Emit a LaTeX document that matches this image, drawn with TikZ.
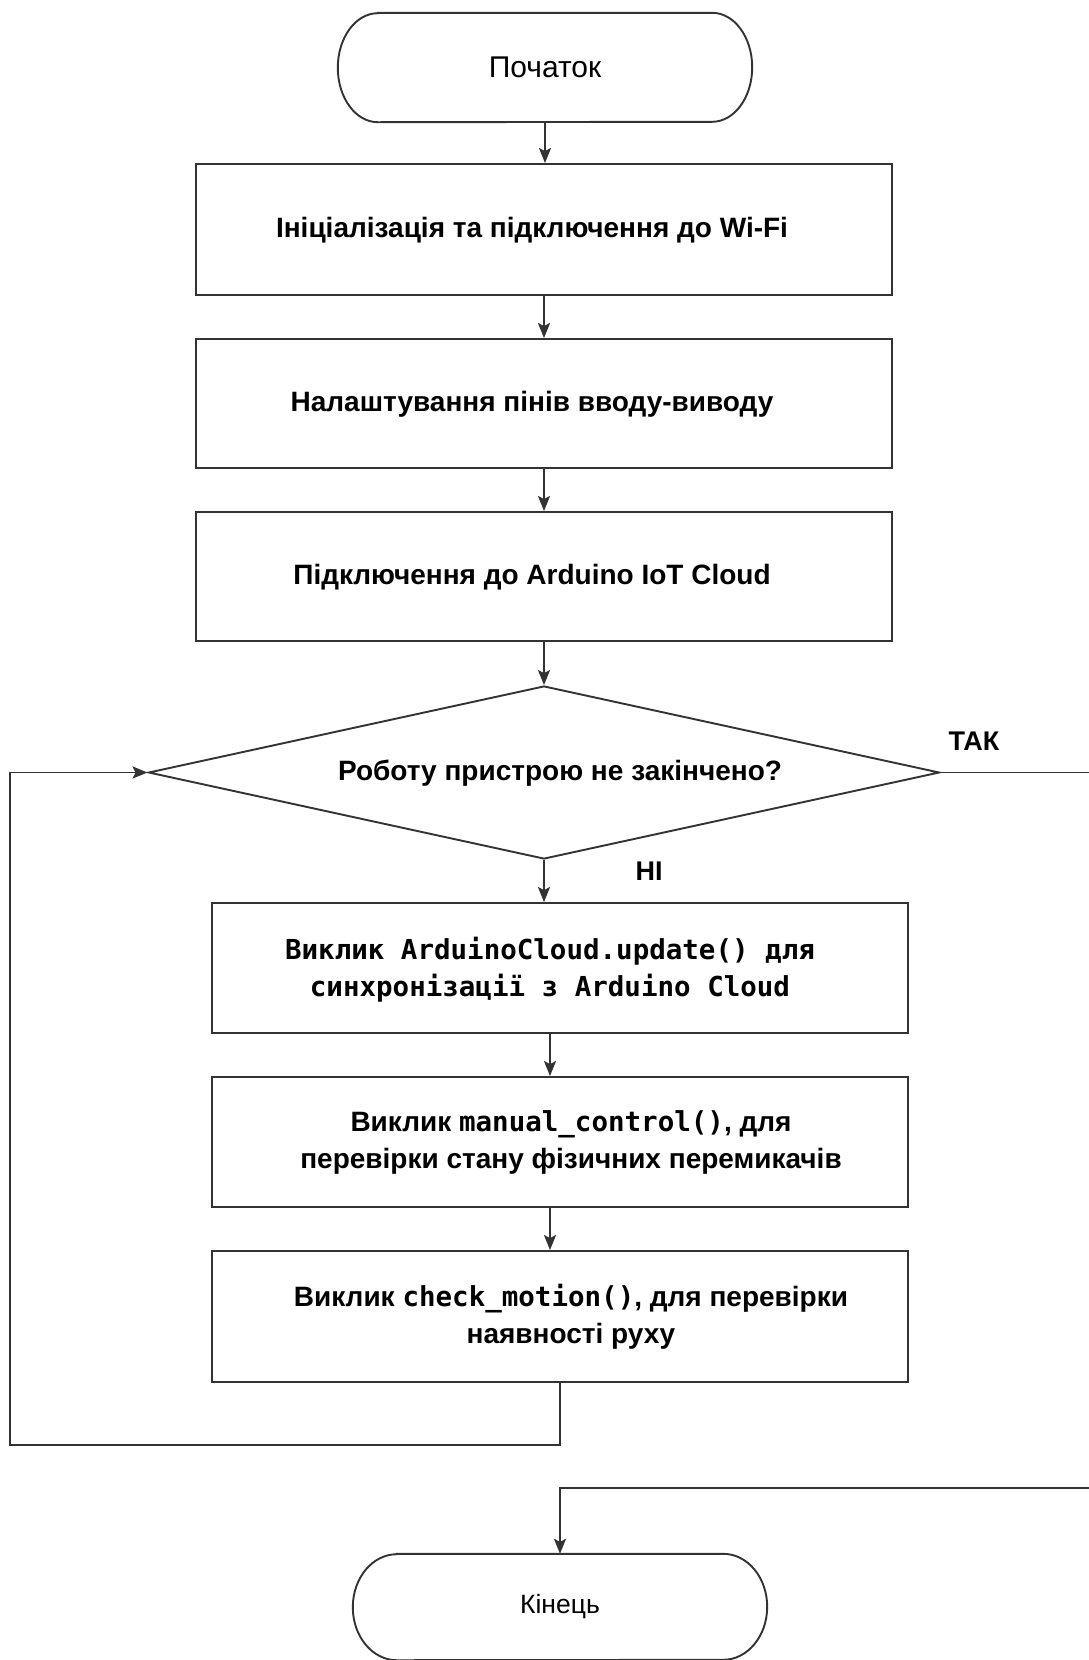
\documentclass[tikz,border=0pt]{standalone}
\usepackage{fontspec}
\setmainfont{Liberation Sans}
\newfontfamily\monofont{DejaVu Sans Mono}
\usetikzlibrary{shapes.geometric,arrows.meta}
\tikzset{
  ln/.style={draw=black!80, line width=1.9pt},
  arr/.style={ln, -{Stealth[length=15pt,width=12pt,inset=3pt]}},
  box/.style={ln, rectangle, minimum width=696pt, inner sep=0pt, fill=white},
  term/.style={rectangle, inner sep=0pt, minimum width=414pt},
  txt/.style={font=\bfseries\fontsize{28}{37}\selectfont, align=center},
  mtxt/.style={font=\monofont\bfseries\fontsize{27.5}{37}\selectfont, align=center},
  ttxt/.style={font=\fontsize{30}{36}\selectfont},
  etxt/.style={font=\fontsize{26.5}{32}\selectfont},
  lbl/.style={font=\bfseries\fontsize{27}{32}\selectfont},
}
\newcommand{\codef}[1]{{\monofont\bfseries\fontsize{27.5}{37}\selectfont #1}}
\begin{document}
\begin{tikzpicture}[x=1pt,y=-1pt]
\useasboundingbox[fill=white] (0,0) rectangle (1089,1660);

% start terminal
\node[term, minimum height=109pt, label={[ttxt]center:Початок}] (start) at (545,67.5) {};
\draw[ln] ([xshift=40pt]start.north west) -- ([xshift=-40pt]start.north east)
  arc[start angle=90, end angle=-90, x radius=40pt, y radius=54.5pt]
  -- ([xshift=40pt]start.south west)
  arc[start angle=270, end angle=90, x radius=40pt, y radius=54.5pt] -- cycle;

\node[box, minimum height=131pt, label={[txt, xshift=-12pt, yshift=-1pt]center:Ініціалізація та підключення до Wi-Fi}] (b1) at (544,229.5) {};
\node[box, minimum height=129pt, label={[txt, xshift=-12pt, yshift=-1pt]center:Налаштування пінів вводу-виводу}] (b2) at (544,403.5) {};
\node[box, minimum height=129pt, label={[txt, xshift=-12pt, yshift=-1pt]center:Підключення до Arduino IoT Cloud}] (b3) at (544,576.5) {};

\node[ln, diamond, inner sep=0pt, minimum width=791pt, minimum height=173pt,
  label={[txt, xshift=16pt, yshift=-1pt]center:Роботу пристрою не закінчено?}] (dia) at (544,772.5) {};

\node[box, minimum height=130pt, label={[mtxt, xshift=-10pt, yshift=-2pt]center:Виклик ArduinoCloud.update() для\\синхронізації з Arduino Cloud}] (b4) at (560,968) {};
\node[box, minimum height=130pt, label={[txt, xshift=11pt]center:Виклик \codef{manual\_control()}, для\\перевірки стану фізичних перемикачів}] (b5) at (560,1142) {};
\node[box, minimum height=131pt, label={[txt, xshift=11pt]center:Виклик \codef{check\_motion()}, для перевірки\\наявності руху}] (b6) at (560,1316.5) {};

% end terminal
\node[term, minimum height=106pt, label={[etxt]center:Кінець}] (end) at (560,1607) {};
\draw[ln] ([xshift=44pt]end.north west) -- ([xshift=-44pt]end.north east)
  arc[start angle=90, end angle=-90, x radius=44pt, y radius=53pt]
  -- ([xshift=44pt]end.south west)
  arc[start angle=270, end angle=90, x radius=44pt, y radius=53pt] -- cycle;

% labels
\node[lbl] (tak) at (974,741) {ТАК};
\node[lbl] (ni) at (649,871) {НІ};

% connectors
\draw[arr] (start.south) -- (start.south |- b1.north);
\draw[arr] (b1.south) -- (b2.north);
\draw[arr] (b2.south) -- (b3.north);
\draw[arr] (b3.south) -- (dia.north);
\draw[arr] (dia.south) -- (dia.south |- b4.north);
\draw[arr] ([xshift=-10pt]b4.south) -- ([xshift=-10pt]b5.north);
\draw[arr] ([xshift=-10pt]b5.south) -- ([xshift=-10pt]b6.north);

\coordinate (lp) at (10,1445);
\draw[arr] (b6.south) |- (lp) |- (dia.west);

\coordinate (rp) at (1100,1488);
\draw[arr] (dia.east) -| (rp) -| (end.north);
\end{tikzpicture}
\end{document}
